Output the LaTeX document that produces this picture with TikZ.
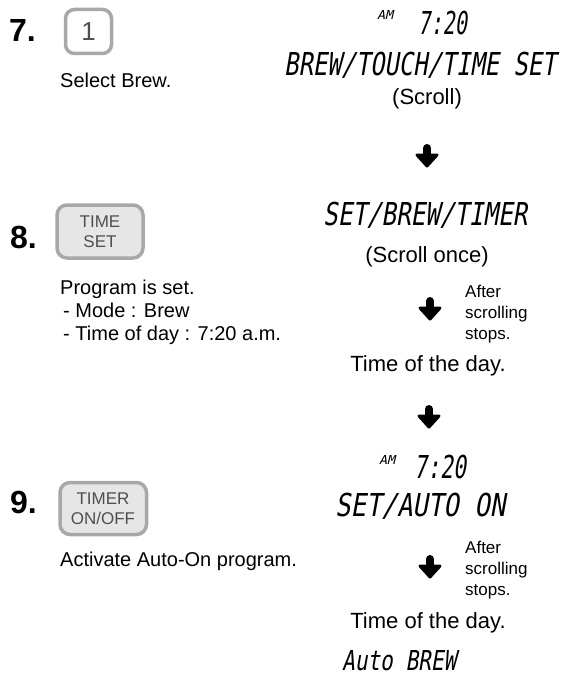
\documentclass[tikz,border=0pt]{standalone}
\usepackage{fontspec}
\usepackage{graphicx}
\setmainfont{Liberation Sans}
\newfontfamily\lcdfont[FakeSlant=0.22]{DejaVu Sans Mono}
\definecolor{btnborder}{HTML}{A8A8A8}
\definecolor{btnfill}{HTML}{E6E6E6}
\definecolor{btntext}{HTML}{4F4F4F}
\newcommand{\lcd}[3]{\resizebox{#1pt}{#2pt}{\lcdfont\smash{#3}\rule{0pt}{0.729em}}}
\tikzset{
  lcdnode/.style={inner sep=0pt, anchor=base west},
  steptext/.style={inner sep=0pt, anchor=base west, font=\fontsize{32}{36}\selectfont\bfseries},
  bodytext/.style={inner sep=0pt, anchor=base west, font=\fontsize{20}{23}\selectfont},
  righttext/.style={inner sep=0pt, anchor=base, font=\fontsize{22}{25}\selectfont},
  notetext/.style={inner sep=0pt, anchor=base west, font=\fontsize{17}{21}\selectfont},
  button/.style={draw=btnborder, line width=3.5pt, rounded corners=10pt, fill=btnfill},
  btnlabel/.style={inner sep=0pt, text=btntext, align=center, font=\fontsize{17}{20}\selectfont},
  dnarr/.pic={
    \fill[black, draw=black, line width=3pt, line join=round] (-10,-1) -- (0,10) -- (10,-1) -- cycle;
    \draw[black, line width=8pt, line cap=round] (0,-8) -- (0,3);
  }
}
\begin{document}
\begin{tikzpicture}[x=1pt,y=-1pt]
\useasboundingbox (0,0) rectangle (565,690);
% ---- step 7
\node[steptext] (s7) at (9,42) {7.};
\draw[button, fill=white, rounded corners=9pt] (65.5,9.5) rectangle (111.5,53.5);
\node[inner sep=0pt, text=btntext, font=\fontsize{26}{28}\selectfont] (b1) at (88.5,31.5) {1};
\node[bodytext] (sel) at (60,87.5) {Select Brew.};
% ---- step 8
\node[steptext] (s8) at (10,248) {8.};
\draw[button] (57,205) rectangle (143,258);
\node[btnlabel] (bts) at (100,232) {TIME\\SET};
\node[bodytext] (p1) at (60,294) {Program is set.};
\node[bodytext] (p2) at (63,317) {- Mode : Brew};
\node[bodytext] (p3) at (63,340) {- Time of day : 7:20 a.m.};
% ---- step 9
\node[steptext] (s9) at (10,513) {9.};
\draw[button] (60,482.5) rectangle (146.5,534.5);
\node[btnlabel] (btt) at (103,509) {TIMER\\ON/OFF};
\node[bodytext] (act) at (60,566) {Activate Auto-On program.};
% ---- right column
\node[lcdnode] (am1) at (377,20) {\lcd{16}{9}{AM}};
\node[lcdnode] (tm1) at (418,35) {\lcd{49}{23}{7:20}};
\node[lcdnode] (d1) at (284,76) {\lcd{272}{23}{BREW/TOUCH/TIME SET}};
\node[righttext] (sc1) at (427,105) {(Scroll)};
\coordinate (a1) at (427,156);
\pic at (a1) {dnarr};
\node[lcdnode] (d2) at (323,225) {\lcd{204}{23}{SET/BREW/TIMER}};
\node[righttext] (sc2) at (427,262) {(Scroll once)};
\coordinate (a2) at (430,309);
\pic at (a2) {dnarr};
\node[notetext] (n1a) at (465,297) {After};
\node[notetext] (n1b) at (465,318) {scrolling};
\node[notetext] (n1c) at (465,339) {stops.};
\node[righttext] (td1) at (428,371) {Time of the day.};
\coordinate (a3) at (429,417);
\pic at (a3) {dnarr};
\node[lcdnode] (am2) at (379,464) {\lcd{16}{9}{AM}};
\node[lcdnode] (tm2) at (414,478) {\lcd{52}{23}{7:20}};
\node[lcdnode] (d3) at (335,516) {\lcd{170}{23}{SET/AUTO ON}};
\coordinate (a4) at (430,567);
\pic at (a4) {dnarr};
\node[notetext] (n2a) at (465,553) {After};
\node[notetext] (n2b) at (465,574) {scrolling};
\node[notetext] (n2c) at (465,595) {stops.};
\node[righttext] (td2) at (428,628) {Time of the day.};
\node[lcdnode] (d4) at (342,670) {\lcd{114}{20}{Auto BREW}};
\end{tikzpicture}
\end{document}
